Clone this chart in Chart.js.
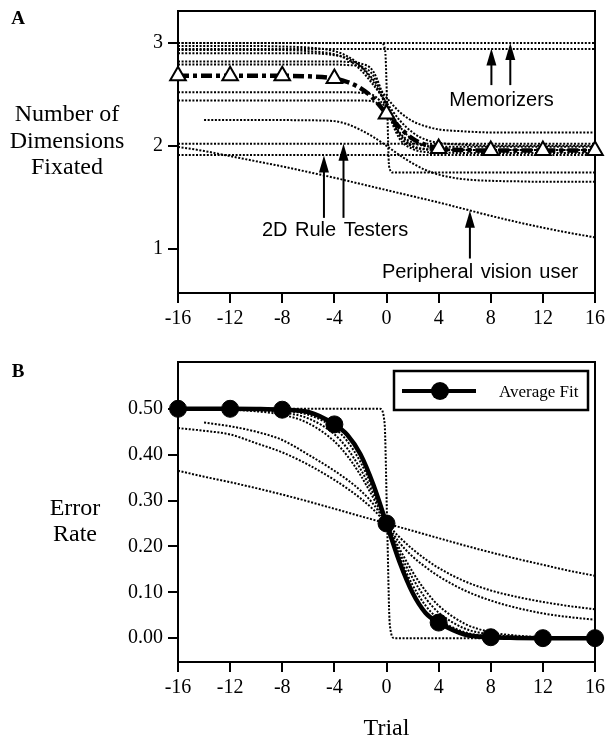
<!DOCTYPE html>
<html><head><meta charset="utf-8">
<script src="https://cdn.jsdelivr.net/npm/chart.js@4"></script>
<style>
html,body{margin:0;padding:0;background:#fff;}
#wrap{position:relative;width:608px;height:738px;overflow:hidden;}
#cA{position:absolute;left:0;top:0;}
#cB{position:absolute;left:0;top:330px;}
</style></head><body>
<div id="wrap"><canvas id="cA" width="608" height="330"></canvas><canvas id="cB" width="608" height="408"></canvas></div>
<script>
// ---------- shared ----------
const trials = [-16,-14,-12,-10,-8,-6,-4,-3,-2,-1,0,1,2,3,4,6,8,10,12,14,16];
const markerTrials = [-16,-12,-8,-4,0,4,8,12,16];
const xTicks = [-16,-12,-8,-4,0,4,8,12,16];

// ---------- panel A : Number of Dimensions Fixated ----------
const yTicksA = [1,2,3];
const avgFitA  = [2.68,2.68,2.68,2.68,2.68,2.675,2.655,2.62,2.56,2.46,2.31,2.18,2.07,2.01,1.975,1.958,1.955,1.955,1.955,1.955,1.955];
const memA1    = [3,3,3,3,3,3,3,3,3,3,3,3,3,3,3,3,3,3,3,3,3];
const memA2    = [2.94,2.94,2.94,2.94,2.94,2.94,2.94,2.94,2.94,2.94,2.94,2.94,2.94,2.94,2.94,2.94,2.94,2.94,2.94,2.94,2.94];
const ruleA1   = [2.02,2.02,2.02,2.02,2.02,2.02,2.02,2.02,2.02,2.02,2.02,2.02,2.02,2.02,2.02,2.02,2.02,2.02,2.02,2.02,2.02];
const ruleA2   = [1.91,1.91,1.91,1.91,1.91,1.91,1.91,1.91,1.91,1.91,1.91,1.91,1.91,1.91,1.91,1.91,1.91,1.91,1.91,1.91,1.91];
const periphA  = [1.99,1.95,1.90,1.85,1.80,1.745,1.69,1.66,1.63,1.60,1.57,1.54,1.51,1.48,1.45,1.385,1.32,1.26,1.205,1.155,1.11];
const subjA1   = [2.97,2.97,2.97,2.97,2.965,2.955,2.92,2.87,2.78,2.64,2.47,2.33,2.24,2.19,2.16,2.14,2.13,2.13,2.13,2.13,2.13];
const subjA2   = [2.93,2.93,2.93,2.93,2.93,2.92,2.89,2.84,2.74,2.59,2.42,2.25,2.13,2.06,2.03,2.01,2.0,2.0,2.0,2.0,2.0];
const subjA3   = [2.90,2.90,2.90,2.90,2.90,2.90,2.88,2.85,2.77,2.62,2.40,2.19,2.06,2.00,1.975,1.962,1.96,1.96,1.96,1.96,1.96];
const subjA4   = [2.82,2.82,2.82,2.82,2.82,2.82,2.82,2.815,2.80,2.72,2.40,2.10,1.99,1.965,1.96,1.96,1.96,1.96,1.96,1.96,1.96];
const subjA5   = [2.79,2.79,2.79,2.79,2.79,2.79,2.79,2.785,2.77,2.68,2.36,2.07,1.97,1.94,1.935,1.93,1.93,1.93,1.93,1.93,1.93];
const subjA6   = [2.52,2.52,2.52,2.52,2.52,2.52,2.52,2.52,2.515,2.49,2.36,2.13,2.03,2.00,1.99,1.99,1.99,1.99,1.99,1.99,1.99];
const subjA7   = [2.44,2.44,2.44,2.44,2.44,2.44,2.44,2.44,2.44,2.43,2.33,2.12,2.00,1.97,1.96,1.96,1.96,1.96,1.96,1.96,1.96];
const subjA8   = [null,2.25,2.25,2.25,2.25,2.248,2.24,2.21,2.155,2.085,2.0,1.91,1.83,1.765,1.72,1.675,1.66,1.655,1.65,1.65,1.65];
const stepTrialsA = [-16,-0.4,-0.1,0.05,0.2,0.5,16];
const stepA       = [3.0,3.0,2.92,2.4,1.8,1.74,1.74];

const notesA = [
  {text:'Memorizers', x:8.83, y:2.44},
  {text:'2D Rule Testers', x:-3.95, y:1.18},
  {text:'Peripheral vision user', x:7.18, y:0.77}
];
const arrowsA = [
  {x:8.05, from:2.59, to:2.945},
  {x:9.5,  from:2.59, to:3.0},
  {x:-4.8, from:1.30, to:1.905},
  {x:-3.3, from:1.30, to:2.02},
  {x:6.4,  from:0.905, to:1.37}
];
const yTitleA = ['Number of','Dimensions','Fixated'];

// ---------- panel B : Error Rate ----------
const yTicksB = [0,0.1,0.2,0.3,0.4,0.5];
const avgFitB  = [0.5,0.5,0.5,0.4995,0.498,0.493,0.466,0.443,0.401,0.334,0.25,0.166,0.099,0.055,0.034,0.008,0.002,0.0005,0,0,0];
const linearB  = [0.365,0.352,0.34,0.327,0.313,0.298,0.282,0.274,0.266,0.258,0.25,0.242,0.234,0.226,0.218,0.202,0.187,0.173,0.16,0.147,0.136];
const slowB1   = [0.458,0.452,0.444,0.425,0.405,0.378,0.345,0.326,0.305,0.28,0.25,0.22,0.194,0.172,0.153,0.124,0.104,0.09,0.079,0.07,0.063];
const slowB2   = [null,0.47,0.462,0.45,0.432,0.40,0.365,0.345,0.322,0.292,0.25,0.208,0.178,0.155,0.135,0.104,0.082,0.066,0.054,0.046,0.04];
const fastB1   = [0.5,0.5,0.4996,0.499,0.496,0.487,0.458,0.429,0.384,0.323,0.25,0.177,0.116,0.071,0.042,0.013,0.004,0.001,0,0,0];
const fastB2   = [0.5,0.5,0.499,0.497,0.492,0.479,0.4445,0.413,0.369,0.314,0.25,0.186,0.131,0.087,0.056,0.021,0.008,0.003,0.001,0,0];
const fastB3   = [0.4996,0.499,0.498,0.4945,0.487,0.4685,0.429,0.397,0.3555,0.305,0.25,0.195,0.1445,0.103,0.071,0.0315,0.013,0.0055,0.0022,0.001,0.0004];
const stepTrialsB = [-16,-0.5,-0.15,0.05,0.25,0.6,16];
const stepB       = [0.5,0.5,0.47,0.25,0.03,0,0];
const yTitleB = ['Error','Rate'];

// ---------- helpers ----------
const SERIF = '"Liberation Serif","Times New Roman",serif';
const SANS  = '"Liberation Sans",Arial,sans-serif';
function pts(xs, ys){ return xs.map((x,i)=>({x:x, y:ys[i]})).filter(p=>p.y!==null); }
function dotted(label, xs, ys){
  return {label:label, data:pts(xs,ys), borderColor:'#000', borderWidth:2, borderDash:[2,1.6],
          pointRadius:0, cubicInterpolationMode:'monotone', fill:false};
}
const isMarker = c => markerTrials.includes(c.raw.x);

function axes(ymin, ymax, yTicks, yFmt, xHeight, xTitle){
  const tickFont = {family:SERIF, size:20};
  const grid = {display:true, drawOnChartArea:false, drawTicks:true, tickLength:10, color:'#000', lineWidth:2};
  return {
    x:{type:'linear', min:-16, max:16,
       afterBuildTicks:s=>{ s.ticks = xTicks.map(v=>({value:v})); },
       afterFit:s=>{ s.height = xHeight; s.paddingLeft = 0; s.paddingRight = 0; },
       ticks:{font:tickFont, color:'#000', padding:4, maxRotation:0, autoSkip:false},
       grid:grid, border:{display:true, color:'#000', width:2},
       title: xTitle ? {display:true, text:xTitle, color:'#000', font:{family:SERIF, size:24, lineHeight:0.8}, padding:0} : {display:false}
    },
    y:{type:'linear', min:ymin, max:ymax,
       afterBuildTicks:s=>{ s.ticks = yTicks.map(v=>({value:v})); },
       afterFit:s=>{ s.width = 178; s.paddingTop = 0; s.paddingBottom = 0; },
       ticks:{font:tickFont, color:'#000', padding:5, callback:yFmt},
       grid:grid, border:{display:true, color:'#000', width:2}
    }
  };
}

const framePlugin = {
  id:'frame',
  beforeDatasetsDraw(chart){
    const {ctx, chartArea:a} = chart;
    ctx.save(); ctx.strokeStyle='#000'; ctx.lineWidth=2;
    ctx.strokeRect(a.left, a.top, a.right-a.left, a.bottom-a.top);
    ctx.restore();
  }
};

function textPlugin(letter, letterY, titleLines, titleY0, titleX, lineGap){
  return {
    id:'texts',
    afterDraw(chart){
      const ctx = chart.ctx;
      ctx.save(); ctx.fillStyle='#000';
      ctx.textAlign='center'; ctx.textBaseline='middle';
      ctx.font = 'bold 19px '+SERIF;
      ctx.fillText(letter, 18, letterY);
      ctx.font = '24px '+SERIF;
      titleLines.forEach((t,i)=>ctx.fillText(t, titleX, titleY0 + i*lineGap));
      ctx.restore();
    }
  };
}

const notesPlugin = {
  id:'notes',
  afterDatasetsDraw(chart){
    const {ctx, scales:{x, y}} = chart;
    ctx.save(); ctx.fillStyle='#000'; ctx.strokeStyle='#000';
    ctx.font = '20px '+SANS; ctx.textAlign='center'; ctx.textBaseline='middle';
    try { ctx.wordSpacing = '2px'; } catch(e) {}
    notesA.forEach(n=>ctx.fillText(n.text, x.getPixelForValue(n.x), y.getPixelForValue(n.y)));
    arrowsA.forEach(a=>{
      const px = x.getPixelForValue(a.x), y0 = y.getPixelForValue(a.from), y1 = y.getPixelForValue(a.to);
      const head = 17, hw = 5;
      ctx.lineWidth = 2;
      ctx.beginPath(); ctx.moveTo(px, y0); ctx.lineTo(px, y1+head-2); ctx.stroke();
      ctx.beginPath(); ctx.moveTo(px, y1); ctx.lineTo(px-hw, y1+head); ctx.lineTo(px+hw, y1+head); ctx.closePath(); ctx.fill();
    });
    ctx.restore();
  }
};

const legendPlugin = {
  id:'boxLegend',
  afterDraw(chart){
    const {ctx, chartArea:a} = chart;
    const ds = chart.data.datasets[0];
    const bw = 194, bh = 39, bx = a.right - 201, by = a.top + 9;
    ctx.save();
    ctx.fillStyle='#fff'; ctx.fillRect(bx,by,bw,bh);
    ctx.strokeStyle='#000'; ctx.lineWidth=2.5; ctx.strokeRect(bx,by,bw,bh);
    const cy = by + 20;
    ctx.lineWidth=4; ctx.beginPath(); ctx.moveTo(bx+8, cy); ctx.lineTo(bx+82, cy); ctx.stroke();
    ctx.fillStyle='#000'; ctx.beginPath(); ctx.arc(bx+46, cy, 9, 0, Math.PI*2); ctx.fill();
    ctx.font='17px '+SERIF; ctx.textAlign='left'; ctx.textBaseline='middle';
    ctx.fillText(ds.label, bx+105, by+21.5);
    ctx.restore();
  }
};

// ---------- chart A ----------
new Chart(document.getElementById('cA'), {
  type:'line',
  data:{datasets:[
    {label:'Average Fit', data:pts(trials, avgFitA), borderColor:'#000', borderWidth:4.5, borderDash:[11,4,4,4],
     cubicInterpolationMode:'monotone', fill:false, clip:false,
     pointStyle:'triangle', pointRadius:c=>isMarker(c)?9:0, pointBackgroundColor:'#fff', pointBorderColor:'#000', pointBorderWidth:2},
    dotted('Memorizer 1', trials, memA1),
    dotted('Memorizer 2', trials, memA2),
    dotted('2D Rule Tester 1', trials, ruleA1),
    dotted('2D Rule Tester 2', trials, ruleA2),
    dotted('Peripheral vision user', trials, periphA),
    dotted('Subject 1', trials, subjA1),
    dotted('Subject 2', trials, subjA2),
    dotted('Subject 3', trials, subjA3),
    dotted('Subject 4', trials, subjA4),
    dotted('Subject 5', trials, subjA5),
    dotted('Subject 6', trials, subjA6),
    dotted('Subject 7', trials, subjA7),
    dotted('Subject 8', trials, subjA8),
    dotted('Subject 9', stepTrialsA, stepA)
  ]},
  options:{
    responsive:false, animation:false, events:[],
    layout:{padding:{left:0, right:13, top:8, bottom:0}},
    plugins:{legend:{display:false}, tooltip:{enabled:false}},
    scales:axes(0.57, 3.31, yTicksA, v=>String(v), 37, null)
  },
  plugins:[framePlugin, notesPlugin, textPlugin('A', 19, yTitleA, 115, 67, 26.5)]
});

// ---------- chart B ----------
new Chart(document.getElementById('cB'), {
  type:'line',
  data:{datasets:[
    {label:'Average Fit', data:pts(trials, avgFitB), borderColor:'#000', borderWidth:4.5,
     cubicInterpolationMode:'monotone', fill:false, clip:false,
     pointStyle:'circle', pointRadius:c=>isMarker(c)?8.5:0, pointBackgroundColor:'#000', pointBorderColor:'#000', pointBorderWidth:1},
    dotted('Peripheral vision user', trials, linearB),
    dotted('Subject A', trials, slowB1),
    dotted('Subject B', trials, slowB2),
    dotted('Subject C', trials, fastB1),
    dotted('Subject D', trials, fastB2),
    dotted('Subject E', trials, fastB3),
    dotted('Subject F', stepTrialsB, stepB)
  ]},
  options:{
    responsive:false, animation:false, events:[],
    layout:{padding:{left:0, right:13, top:32, bottom:0}},
    plugins:{legend:{display:false}, tooltip:{enabled:false}},
    scales:axes(-0.052, 0.602, yTicksB, v=>Number(v).toFixed(2), 76, 'Trial')
  },
  plugins:[framePlugin, legendPlugin, textPlugin('B', 42, yTitleB, 179, 75, 26)]
});
</script>
</body></html>
